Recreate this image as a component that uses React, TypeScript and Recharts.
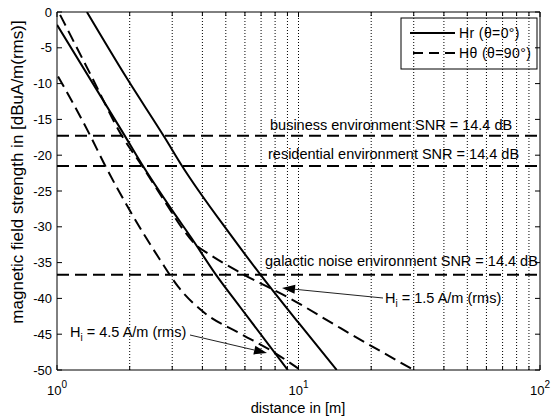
import React from 'react';
import { ComposedChart, Line, XAxis, YAxis, ReferenceLine, Customized } from 'recharts';

const FONT = "'Liberation Sans', Arial, Helvetica, sans-serif";

// distance [m] vs magnetic field strength [dBuA/m(rms)]
const hrStrong = [
  { x: 1.33, y: 0 }, { x: 1.95, y: -9.3 }, { x: 2.8, y: -17.6 }, { x: 3.28, y: -21.4 },
  { x: 5.2, y: -31.0 }, { x: 6.93, y: -36.6 }, { x: 10, y: -43.4 }, { x: 14.4, y: -50 },
];
const hrWeak = [
  { x: 1.0, y: -1.8 }, { x: 1.91, y: -17.3 }, { x: 2.24, y: -21.2 }, { x: 3.0, y: -27.7 },
  { x: 3.61, y: -31.6 }, { x: 4.51, y: -36.5 }, { x: 5.73, y: -41.2 }, { x: 9.03, y: -50 },
];
const hthStrong = [
  { x: 1.03, y: -0.4 }, { x: 1.39, y: -9.0 }, { x: 1.85, y: -17.2 }, { x: 2.24, y: -21.4 },
  { x: 2.8, y: -26.5 }, { x: 3.3, y: -30.2 }, { x: 3.75, y: -32.5 }, { x: 4.3, y: -33.9 },
  { x: 5.73, y: -36.4 }, { x: 9.22, y: -40.0 }, { x: 15, y: -44.2 }, { x: 30, y: -50 },
];
const hthWeak = [
  { x: 1.01, y: -9.0 }, { x: 1.37, y: -17.2 }, { x: 1.58, y: -21.4 }, { x: 2.0, y: -27.7 },
  { x: 2.67, y: -34.6 }, { x: 3.18, y: -38.4 }, { x: 4.04, y: -41.9 }, { x: 5.73, y: -44.9 },
  { x: 7.62, y: -47.2 }, { x: 10, y: -49.8 },
];

const noiseLevels = [-17.3, -21.5, -36.7];
const noiseLabels = [
  'business environment SNR = 14.4 dB',
  'residential environment SNR = 14.4 dB',
  'galactic noise environment SNR = 14.4 dB',
];
const currentLabels = ['1.5 A/m (rms)', '4.5 A/m (rms)'];
const legendLabels = ['Hr (θ=0°)', 'Hθ (θ=90°)'];

const xMajorTicks = [1, 10, 100];
const xTicks = [1, 2, 3, 4, 5, 6, 7, 8, 9, 10, 20, 30, 40, 50, 60, 70, 80, 90, 100];
const xGrid = [2, 3, 4, 5, 6, 7, 8, 9, 10, 20, 30, 40, 50, 60, 70, 80, 90];
const yTicks = [-50, -45, -40, -35, -30, -25, -20, -15, -10, -5, 0];

const BottomTick = ({ x, y, payload }: any) => {
  const v = payload.value;
  const major = xMajorTicks.includes(v);
  return (
    <g>
      <line x1={x} x2={x} y1={y} y2={y - (major ? 5 : 4)} stroke="#000" strokeWidth={1} />
      {major && (
        <text x={x} y={y + 25} textAnchor="middle" fontSize={13} fontFamily={FONT} fill="#000">
          10<tspan dy={-7} fontSize={10}>{Math.round(Math.log10(v))}</tspan>
        </text>
      )}
    </g>
  );
};

const TopTick = ({ x, y, payload }: any) => {
  const major = xMajorTicks.includes(payload.value);
  return <line x1={x} x2={x} y1={y} y2={y + (major ? 5 : 4)} stroke="#000" strokeWidth={1} />;
};

const LeftTick = ({ x, y, payload }: any) => (
  <g>
    <line x1={x} x2={x + 5} y1={y} y2={y} stroke="#000" strokeWidth={1} />
    <text x={x - 5} y={y + 4.5} textAnchor="end" fontSize={13} fontFamily={FONT} fill="#000">
      {payload.value}
    </text>
  </g>
);

const RightTick = ({ x, y }: any) => (
  <line x1={x} x2={x - 5} y1={y} y2={y} stroke="#000" strokeWidth={1} />
);

const Arrow = ({ x1, y1, x2, y2 }: { x1: number; y1: number; x2: number; y2: number }) => {
  const a = Math.atan2(y2 - y1, x2 - x1);
  const L = 13;
  const W = 4.5;
  const bx = x2 - L * Math.cos(a);
  const by = y2 - L * Math.sin(a);
  const px = -Math.sin(a) * W;
  const py = Math.cos(a) * W;
  return (
    <g>
      <line x1={x1} y1={y1} x2={bx} y2={by} stroke="#222" strokeWidth={1} />
      <polygon points={`${x2},${y2} ${bx + px},${by + py} ${bx - px},${by - py}`} fill="#000" />
    </g>
  );
};

const Annotations = () => (
  <g fontFamily={FONT} fill="#000">
    <text x={270} y={130} fontSize={14.5}>{noiseLabels[0]}</text>
    <text x={268} y={159} fontSize={14.5}>{noiseLabels[1]}</text>
    <text x={265} y={266} fontSize={14.5}>{noiseLabels[2]}</text>

    <text x={385} y={303} fontSize={14.5}>
      H<tspan dy={4} fontSize={10}>i</tspan><tspan dy={-4}>{' = ' + currentLabels[0]}</tspan>
    </text>
    <Arrow x1={383} y1={298} x2={282} y2={288} />

    <text x={70} y={337} fontSize={14.5}>
      H<tspan dy={4} fontSize={10}>i</tspan><tspan dy={-4}>{' = ' + currentLabels[1]}</tspan>
    </text>
    <Arrow x1={190} y1={335} x2={267} y2={353} />

    <text x={298} y={413} textAnchor="middle" fontSize={14.7}>distance in [m]</text>
    <text transform="translate(23,172) rotate(-90)" x={0} y={0} textAnchor="middle" fontSize={17}>
      magnetic field strength in [dBuA/m(rms)]
    </text>

    <rect x={401} y={18} width={136} height={51} fill="#fff" stroke="#000" strokeWidth={1} />
    <line x1={410} x2={455} y1={33} y2={33} stroke="#000" strokeWidth={2} />
    <text x={459} y={38} fontSize={14} letterSpacing={0.4}>{legendLabels[0]}</text>
    <line x1={413} x2={455} y1={53} y2={53} stroke="#000" strokeWidth={2} strokeDasharray="10 6" />
    <text x={459} y={58} fontSize={14} letterSpacing={0.4}>{legendLabels[1]}</text>
  </g>
);

export default function App() {
  return (
    <div style={{ position: 'absolute', left: 0, top: 0, background: '#fff' }}>
      <ComposedChart width={551} height={419} margin={{ top: 11, right: 10, bottom: 48, left: 56 }}>
        <XAxis
          dataKey="x" type="number" scale="log" domain={[1, 100]} allowDataOverflow
          ticks={xTicks} interval={0} height={1} tickSize={0} tickMargin={0}
          tickLine={false} axisLine={{ stroke: '#000' }} tick={<BottomTick />}
        />
        <XAxis
          xAxisId="top" orientation="top" dataKey="x" type="number" scale="log" domain={[1, 100]}
          allowDataOverflow ticks={xTicks} interval={0} height={1} tickSize={0} tickMargin={0}
          tickLine={false} axisLine={{ stroke: '#000' }} tick={<TopTick />}
        />
        <YAxis
          type="number" domain={[-50, 0]} allowDataOverflow ticks={yTicks} interval={0}
          width={1} tickSize={0} tickMargin={0} tickLine={false} axisLine={{ stroke: '#000' }}
          tick={<LeftTick />}
        />
        <YAxis
          yAxisId="right" orientation="right" type="number" domain={[-50, 0]} allowDataOverflow
          ticks={yTicks} interval={0} width={1} tickSize={0} tickMargin={0} tickLine={false}
          axisLine={{ stroke: '#000' }} tick={<RightTick />}
        />
        {xGrid.map((v) => (
          <ReferenceLine key={'g' + v} x={v} stroke="#000" strokeWidth={1} strokeDasharray="1 2" />
        ))}
        {noiseLevels.map((v) => (
          <ReferenceLine key={'n' + v} y={v} stroke="#000" strokeWidth={2} strokeDasharray="12 6" />
        ))}
        <Line data={hrStrong} dataKey="y" type="monotone" stroke="#000" strokeWidth={2} dot={false} isAnimationActive={false} />
        <Line data={hrWeak} dataKey="y" type="monotone" stroke="#000" strokeWidth={2} dot={false} isAnimationActive={false} />
        <Line data={hthStrong} dataKey="y" type="monotone" stroke="#000" strokeWidth={2} strokeDasharray="12 6" dot={false} isAnimationActive={false} />
        <Line data={hthWeak} dataKey="y" type="monotone" stroke="#000" strokeWidth={2} strokeDasharray="12 6" dot={false} isAnimationActive={false} />
        <Customized component={<Annotations />} />
      </ComposedChart>
    </div>
  );
}
